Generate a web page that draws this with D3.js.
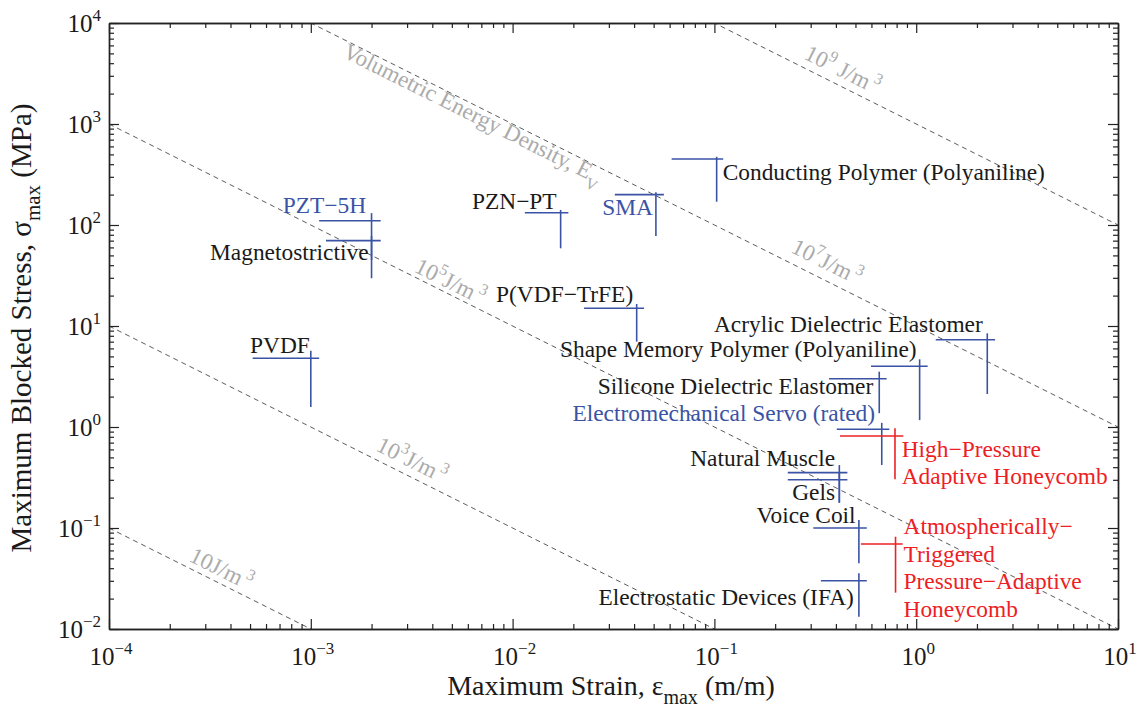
<!DOCTYPE html>
<html>
<head>
<meta charset="utf-8">
<script src="https://cdn.jsdelivr.net/npm/d3@7"></script>
<style>
  body { margin: 0; background: #fff; }
  svg text { font-family: "Liberation Serif", "Times New Roman", serif; }
</style>
</head>
<body>
<svg id="chart" width="1143" height="714"></svg>
<script>
// actuator data (strain in m/m, stress in MPa)
var materials = ["PZT\u22125H", "Magnetostrictive", "PVDF", "PZN\u2212PT", "SMA",
  "Conducting Polymer (Polyaniline)", "P(VDF\u2212TrFE)", "Acrylic Dielectric Elastomer",
  "Shape Memory Polymer (Polyaniline)", "Silicone Dielectric Elastomer",
  "Electromechanical Servo (rated)", "High\u2212Pressure\nAdaptive Honeycomb",
  "Natural Muscle", "Gels", "Voice Coil",
  "Atmospherically\u2212\nTriggered\nPressure\u2212Adaptive\nHoneycomb",
  "Electrostatic Devices (IFA)"];
var kind = ["commercial", "research", "research", "research", "commercial",
  "research", "research", "research", "research", "research",
  "commercial", "honeycomb", "research", "research", "research",
  "honeycomb", "research"];
var maxStrain  = [0.002, 0.002, 0.001, 0.0173, 0.0513, 0.1026, 0.0412, 2.25, 1.04, 0.656, 0.675, 0.785, 0.416, 0.416, 0.52, 0.79, 0.52];
var maxStress  = [110, 70, 4.8, 132, 200, 450, 15, 7.3, 4.0, 3.0, 0.95, 0.815, 0.353, 0.30, 0.10, 0.0695, 0.03];
var strainLow  = [0.0011, 0.00119, 0.000515, 0.0115, 0.0321, 0.0614, 0.0226, 1.25, 0.597, 0.37, 0.404, 0.419, 0.231, 0.231, 0.309, 0.532, 0.337];
var strainHigh = [0.00222, 0.00222, 0.0011, 0.0189, 0.0562, 0.1106, 0.0448, 2.46, 1.14, 0.714, 0.736, 0.863, 0.456, 0.456, 0.569, 0.857, 0.569];
var stressHigh = [131, 78, 5.7, 141, 211, 474, 16.5, 8.47, 4.68, 3.53, 1.10, 0.97, 0.42, 0.35, 0.12, 0.082, 0.0356];
var stressLow  = [45, 29.7, 1.58, 58.8, 77.8, 170, 7.0, 2.12, 1.17, 1.37, 0.42, 0.303, 0.178, 0.178, 0.0447, 0.0229, 0.0132];

// constant volumetric energy density lines, J/m^3
var energyLevels = [1e1, 1e3, 1e5, 1e7, 1e9];
var energyExp = [1, 3, 5, 7, 9];

var xTickExp = [-4, -3, -2, -1, 0, 1];
var yTickExp = [-2, -1, 0, 1, 2, 3, 4];

var x = d3.scaleLog().domain([1e-4, 10]).range([109, 1118]);
var y = d3.scaleLog().domain([1e-2, 1e4]).range([629, 23]);

var colors = { commercial: "#3a53a4", research: "#3a53a4", honeycomb: "#ed2024" };
var textColors = { commercial: "#3a53a4", research: "#1a1a1a", honeycomb: "#ed2024" };

var svg = d3.select("#chart");

svg.append("clipPath").attr("id", "plotclip")
  .append("rect").attr("x", 109).attr("y", 23).attr("width", 1009).attr("height", 606);

// energy lines
var lineGen = d3.line().x(function(d) { return x(d[0]); }).y(function(d) { return y(d[1]); });
svg.append("g").attr("clip-path", "url(#plotclip)")
  .selectAll("path").data(energyLevels).enter().append("path")
  .attr("d", function(E) { return lineGen([[1e-4, E / 1e-4 / 1e6], [10, E / 10 / 1e6]]); })
  .attr("fill", "none")
  .attr("stroke", "#5c5c5c")
  .attr("stroke-width", 1)
  .attr("stroke-dasharray", "5,4");

// slope of the lines on screen
var angle = Math.atan2(y(1) - y(10), x(10) - x(1)) * 180 / Math.PI;

// energy labels: start strain along each line and a vertical pixel shift
var eLabelStrain = [2.46e-4, 2.08e-3, 3.22e-3, 0.237, 0.275];
var eLabelShift = [-7, -9, -5, -11, -9];
var eLabels = svg.append("g").attr("fill", "#ababab").style("font-size", "23px");
energyLevels.forEach(function(E, i) {
  var s = eLabelStrain[i];
  var t = eLabels.append("text")
    .attr("transform", "translate(" + x(s) + "," + (y(E / s / 1e6) + eLabelShift[i]) + ") rotate(" + angle + ")");
  if (energyExp[i] === 1) {
    t.append("tspan").text("10J/m");
  } else {
    t.append("tspan").text("10");
    t.append("tspan").attr("dy", -10).style("font-size", "16px").text(energyExp[i]);
    t.append("tspan").attr("dy", 10).text((i === 4 ? " " : "") + "J/m");
  }
  t.append("tspan").attr("dx", 3).attr("dy", -10).style("font-size", "16px").text("3");
});
// title on the 10^7 line
var vs = 1.42e-3;
var vt = eLabels.append("text")
  .attr("transform", "translate(" + x(vs) + "," + (y(1e7 / vs / 1e6) + 18) + ") rotate(" + angle + ")");
vt.append("tspan").text("Volumetric Energy Density, E");
vt.append("tspan").attr("dy", 8).style("font-size", "16px").text("V");

// actuator markers
var marks = svg.append("g").attr("stroke-width", 1.6);
materials.forEach(function(m, i) {
  var c = colors[kind[i]];
  marks.append("line")
    .attr("x1", x(strainLow[i])).attr("x2", x(strainHigh[i]))
    .attr("y1", y(maxStress[i])).attr("y2", y(maxStress[i]))
    .attr("stroke", c);
  marks.append("line")
    .attr("x1", x(maxStrain[i])).attr("x2", x(maxStrain[i]))
    .attr("y1", y(stressHigh[i])).attr("y2", y(stressLow[i]))
    .attr("stroke", c);
});

// label offsets from the marker corner, px
var labelDx = [-5.5, -3, -1, -4, -3, 6, -3.5, -4.5, -3, -6, -6.7, 6.7, -4.3, -4.3, -3.3, 8, -5];
var labelDy = [-8, 19.4, -5, -4, 20, 21, -6, -8, -9.5, 15, -8.3, 20.7, -7, 20, -4.7, -9.7, 24];
var labels = svg.append("g").style("font-size", "23.4px");
materials.forEach(function(m, i) {
  var lines = m.split("\n");
  var t = labels.append("text")
    .attr("x", x(maxStrain[i]) + labelDx[i])
    .attr("y", y(maxStress[i]) + labelDy[i])
    .attr("fill", textColors[kind[i]])
    .attr("text-anchor", labelDx[i] > 0 ? "start" : "end");
  lines.forEach(function(l, j) {
    t.append("tspan").attr("x", x(maxStrain[i]) + labelDx[i]).attr("dy", j === 0 ? 0 : 27.5).text(l);
  });
});

// axes with inward ticks on all four sides
function minors(lo, hi) {
  var v = [];
  for (var e = lo; e < hi; e++) for (var k = 2; k <= 9; k++) v.push(k * Math.pow(10, e));
  return v;
}
var xMaj = xTickExp.map(function(e) { return Math.pow(10, e); });
var yMaj = yTickExp.map(function(e) { return Math.pow(10, e); });
var xMin = minors(-4, 1), yMin = minors(-2, 4);

function drawAxis(axisFn, scale, vals, size, tr) {
  var g = svg.append("g").attr("transform", tr)
    .call(axisFn(scale).tickValues(vals).tickSizeInner(size).tickSizeOuter(0).tickFormat(""));
  g.selectAll("path").attr("stroke", "#222").attr("stroke-width", 1.4);
  g.selectAll("line").attr("stroke", "#222").attr("stroke-width", 1.2);
}
drawAxis(d3.axisBottom, x, xMaj, -10, "translate(0,629)");
drawAxis(d3.axisBottom, x, xMin, -5, "translate(0,629)");
drawAxis(d3.axisTop, x, xMaj, -10, "translate(0,23)");
drawAxis(d3.axisTop, x, xMin, -5, "translate(0,23)");
drawAxis(d3.axisLeft, y, yMaj, -10, "translate(109,0)");
drawAxis(d3.axisLeft, y, yMin, -5, "translate(109,0)");
drawAxis(d3.axisRight, y, yMaj, -10, "translate(1118,0)");
drawAxis(d3.axisRight, y, yMin, -5, "translate(1118,0)");

function expText(t, e) {
  t.append("tspan").text("10");
  t.append("tspan").attr("dy", -11).style("font-size", "17px").text(e < 0 ? "\u2212" + (-e) : e);
}
var ticksG = svg.append("g").attr("fill", "#1a1a1a").style("font-size", "25px");
xTickExp.forEach(function(e) {
  var t = ticksG.append("text").attr("x", x(Math.pow(10, e)) + 2).attr("y", 665).attr("text-anchor", "middle");
  expText(t, e);
});
yTickExp.forEach(function(e) {
  var t = ticksG.append("text").attr("x", 101).attr("y", y(Math.pow(10, e)) + 9).attr("text-anchor", "end");
  expText(t, e);
});

// axis titles
var xt = svg.append("text").attr("x", 611).attr("y", 695).attr("text-anchor", "middle")
  .attr("fill", "#1a1a1a").style("font-size", "28px");
xt.append("tspan").text("Maximum Strain, \u03b5");
xt.append("tspan").attr("dy", 9).style("font-size", "20px").text("max");
xt.append("tspan").attr("dy", -9).text(" (m/m)");

var yt = svg.append("text").attr("transform", "translate(31,328) rotate(-90)").attr("text-anchor", "middle")
  .attr("fill", "#1a1a1a").style("font-size", "29px");
yt.append("tspan").text("Maximum Blocked Stress, \u03c3");
yt.append("tspan").attr("dy", 9).style("font-size", "21px").text("max");
yt.append("tspan").attr("dy", -9).text(" (MPa)");
</script>
</body>
</html>
